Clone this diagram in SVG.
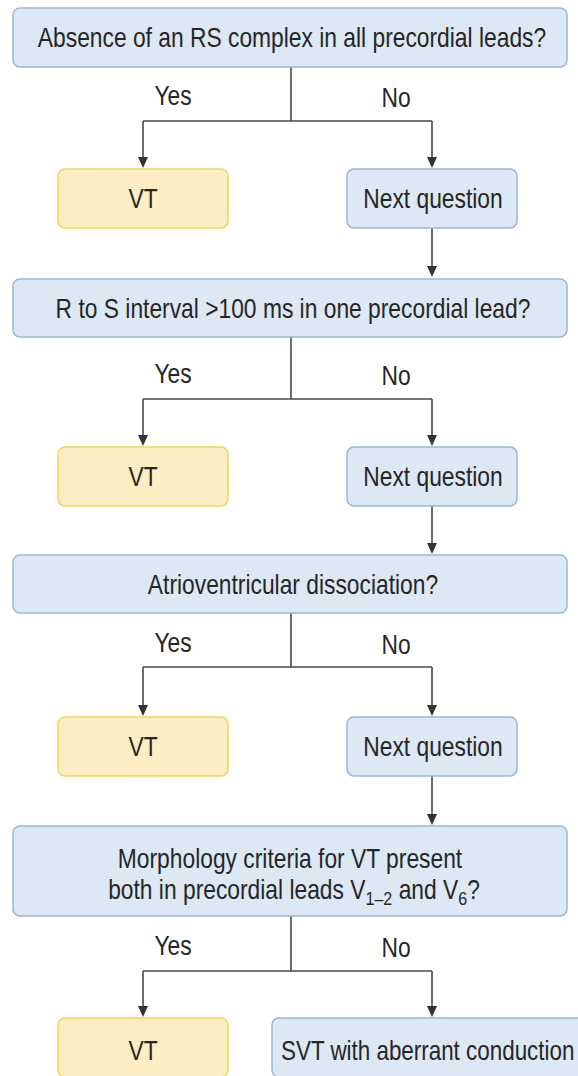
<svg xmlns="http://www.w3.org/2000/svg" width="578" height="1076" viewBox="0 0 578 1076">
<style>
  .q { fill: #dde8f5; stroke: #9db5d2; stroke-width: 1.5; }
  .vt { fill: #fdedc2; stroke: #f2d55e; stroke-width: 1.5; }
  text { font-family: "Liberation Sans", Arial, sans-serif; font-size: 27px; fill: #262626; }
  .c { text-anchor: middle; }
  .ln { fill: none; stroke: #4a4a4a; stroke-width: 1.6; }
  .hd { fill: #333333; }
</style>
<rect width="578" height="1076" fill="#ffffff"/>

<g id="connectors">
  <!-- row 1 -->
  <path class="ln" d="M291,67 V121"/>
  <path class="ln" d="M143,121 H432"/>
  <path class="ln" d="M143,121 V157"/>
  <path class="ln" d="M432,121 V157"/>
  <path class="hd" d="M138,157 L148,157 L143,168 Z"/>
  <path class="hd" d="M427,157 L437,157 L432,168 Z"/>
  <path class="ln" d="M432,228 V266"/>
  <path class="hd" d="M427,266 L437,266 L432,277 Z"/>
  <!-- row 2 -->
  <path class="ln" d="M291,337 V399"/>
  <path class="ln" d="M143,399 H432"/>
  <path class="ln" d="M143,399 V435"/>
  <path class="ln" d="M432,399 V435"/>
  <path class="hd" d="M138,435 L148,435 L143,446 Z"/>
  <path class="hd" d="M427,435 L437,435 L432,446 Z"/>
  <path class="ln" d="M432,506 V543"/>
  <path class="hd" d="M427,543 L437,543 L432,554 Z"/>
  <!-- row 3 -->
  <path class="ln" d="M291,613 V667"/>
  <path class="ln" d="M143,667 H432"/>
  <path class="ln" d="M143,667 V705"/>
  <path class="ln" d="M432,667 V705"/>
  <path class="hd" d="M138,705 L148,705 L143,716 Z"/>
  <path class="hd" d="M427,705 L437,705 L432,716 Z"/>
  <path class="ln" d="M432,776 V814"/>
  <path class="hd" d="M427,814 L437,814 L432,825 Z"/>
  <!-- row 4 -->
  <path class="ln" d="M291,916 V971"/>
  <path class="ln" d="M143,971 H432"/>
  <path class="ln" d="M143,971 V1006"/>
  <path class="ln" d="M432,971 V1006"/>
  <path class="hd" d="M138,1006 L148,1006 L143,1017 Z"/>
  <path class="hd" d="M427,1006 L437,1006 L432,1017 Z"/>
</g>

<g id="labels">
  <text class="c" transform="translate(173,105) scale(0.845,1)">Yes</text>
  <text class="c" transform="translate(396,107) scale(0.845,1)">No</text>
  <text class="c" transform="translate(173,383) scale(0.845,1)">Yes</text>
  <text class="c" transform="translate(396,385) scale(0.845,1)">No</text>
  <text class="c" transform="translate(173,652) scale(0.845,1)">Yes</text>
  <text class="c" transform="translate(396,654) scale(0.845,1)">No</text>
  <text class="c" transform="translate(173,955) scale(0.845,1)">Yes</text>
  <text class="c" transform="translate(396,957) scale(0.845,1)">No</text>
</g>

<g id="q1">
  <rect class="q" x="13" y="8" width="554" height="59" rx="7"/>
  <text class="c" transform="translate(292,47) scale(0.845,1)">Absence of an RS complex in all precordial leads?</text>
</g>
<g id="vt1">
  <rect class="vt" x="58" y="169" width="170" height="59" rx="7"/>
  <text class="c" transform="translate(143,208) scale(0.845,1)">VT</text>
</g>
<g id="next1">
  <rect class="q" x="347" y="169" width="170" height="59" rx="7"/>
  <text class="c" transform="translate(433,208) scale(0.845,1)">Next question</text>
</g>

<g id="q2">
  <rect class="q" x="13" y="279" width="554" height="58" rx="7"/>
  <text class="c" transform="translate(293,318) scale(0.845,1)">R to S interval &gt;100 ms in one precordial lead?</text>
</g>
<g id="vt2">
  <rect class="vt" x="58" y="447" width="170" height="59" rx="7"/>
  <text class="c" transform="translate(143,486) scale(0.845,1)">VT</text>
</g>
<g id="next2">
  <rect class="q" x="347" y="447" width="170" height="59" rx="7"/>
  <text class="c" transform="translate(433,486) scale(0.845,1)">Next question</text>
</g>

<g id="q3">
  <rect class="q" x="13" y="555" width="554" height="58" rx="7"/>
  <text class="c" transform="translate(293,594) scale(0.845,1)">Atrioventricular dissociation?</text>
</g>
<g id="vt3">
  <rect class="vt" x="58" y="717" width="170" height="59" rx="7"/>
  <text class="c" transform="translate(143,756) scale(0.845,1)">VT</text>
</g>
<g id="next3">
  <rect class="q" x="347" y="717" width="170" height="59" rx="7"/>
  <text class="c" transform="translate(433,756) scale(0.845,1)">Next question</text>
</g>

<g id="q4">
  <rect class="q" x="13" y="826" width="554" height="90" rx="7"/>
  <text class="c" transform="translate(290,868) scale(0.845,1)">Morphology criteria for VT present</text>
  <text class="c" transform="translate(294,899) scale(0.845,1)">both in precordial leads V<tspan font-size="19" dy="6">1–2</tspan><tspan dy="-6"> and V</tspan><tspan font-size="19" dy="6">6</tspan><tspan dy="-6">?</tspan></text>
</g>
<g id="vt4">
  <rect class="vt" x="58" y="1018" width="170" height="59" rx="7"/>
  <text class="c" transform="translate(143,1060) scale(0.845,1)">VT</text>
</g>
<g id="svt">
  <rect class="q" x="272" y="1018" width="330" height="59" rx="7"/>
  <text transform="translate(281,1060) scale(0.83,1)">SVT with aberrant conduction</text>
</g>
</svg>
